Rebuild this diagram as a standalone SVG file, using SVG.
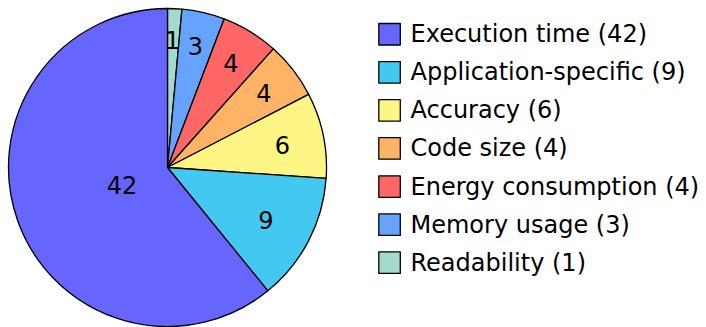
<svg xmlns="http://www.w3.org/2000/svg" width="706" height="327" viewBox="0 0 706 327">
<style>
.s{stroke:#000;stroke-width:1.3;stroke-linejoin:round}
.t{font-family:"DejaVu Sans",sans-serif;font-size:24px;fill:#000}
.c{text-anchor:middle}
.exe{fill:#6666ff}.app{fill:#43c8f2}.acc{fill:#fff585}.code{fill:#ffb366}.en{fill:#ff6666}.mem{fill:#66a3ff}.rd{fill:#a3dacc}
</style>
<rect width="706" height="327" fill="#fff"/>
<g id="pie">
<g id="slice-readability"><path class="s rd" d="M167.5 167.5 L167.5 8.5 A159 159 0 0 1 181.96 9.16 Z"/><text class="t c" x="172.5" y="49">1</text></g>
<g id="slice-memory"><path class="s mem" d="M167.5 167.5 L181.96 9.16 A159 159 0 0 1 224.15 18.93 Z"/><text class="t c" x="195.5" y="55">3</text></g>
<g id="slice-energy"><path class="s en" d="M167.5 167.5 L224.15 18.93 A159 159 0 0 1 273.34 48.85 Z"/><text class="t c" x="231" y="72">4</text></g>
<g id="slice-code"><path class="s code" d="M167.5 167.5 L273.34 48.85 A159 159 0 0 1 308.67 94.35 Z"/><text class="t c" x="264" y="102">4</text></g>
<g id="slice-accuracy"><path class="s acc" d="M167.5 167.5 L308.67 94.35 A159 159 0 0 1 326.13 178.35 Z"/><text class="t c" x="282.5" y="154">6</text></g>
<g id="slice-application"><path class="s app" d="M167.5 167.5 L326.13 178.35 A159 159 0 0 1 267.84 290.84 Z"/><text class="t c" x="266" y="229">9</text></g>
<g id="slice-execution"><path class="s exe" d="M167.5 167.5 L267.84 290.84 A159 159 0 1 1 167.5 8.5 Z"/><text class="t c" x="122" y="194">42</text></g>
</g>
<g id="legend">
<g id="leg-exe"><rect class="s exe" x="378.8" y="23.5" width="21.5" height="21.5"/><text class="t" x="410.5" y="42.2">Execution time (42)</text></g>
<g id="leg-app"><rect class="s app" x="378.8" y="61.6" width="21.5" height="21.5"/><text class="t" x="410.5" y="80.3">Application-specific (9)</text></g>
<g id="leg-acc"><rect class="s acc" x="378.8" y="99.6" width="21.5" height="21.5"/><text class="t" x="410.5" y="118.3">Accuracy (6)</text></g>
<g id="leg-code"><rect class="s code" x="378.8" y="137.7" width="21.5" height="21.5"/><text class="t" x="410.5" y="156.4">Code size (4)</text></g>
<g id="leg-en"><rect class="s en" x="378.8" y="175.8" width="21.5" height="21.5"/><text class="t" x="410.5" y="194.5">Energy consumption (4)</text></g>
<g id="leg-mem"><rect class="s mem" x="378.8" y="213.9" width="21.5" height="21.5"/><text class="t" x="410.5" y="232.6">Memory usage (3)</text></g>
<g id="leg-rd"><rect class="s rd" x="378.8" y="251.9" width="21.5" height="21.5"/><text class="t" x="410.5" y="270.6">Readability (1)</text></g>
</g>
</svg>
